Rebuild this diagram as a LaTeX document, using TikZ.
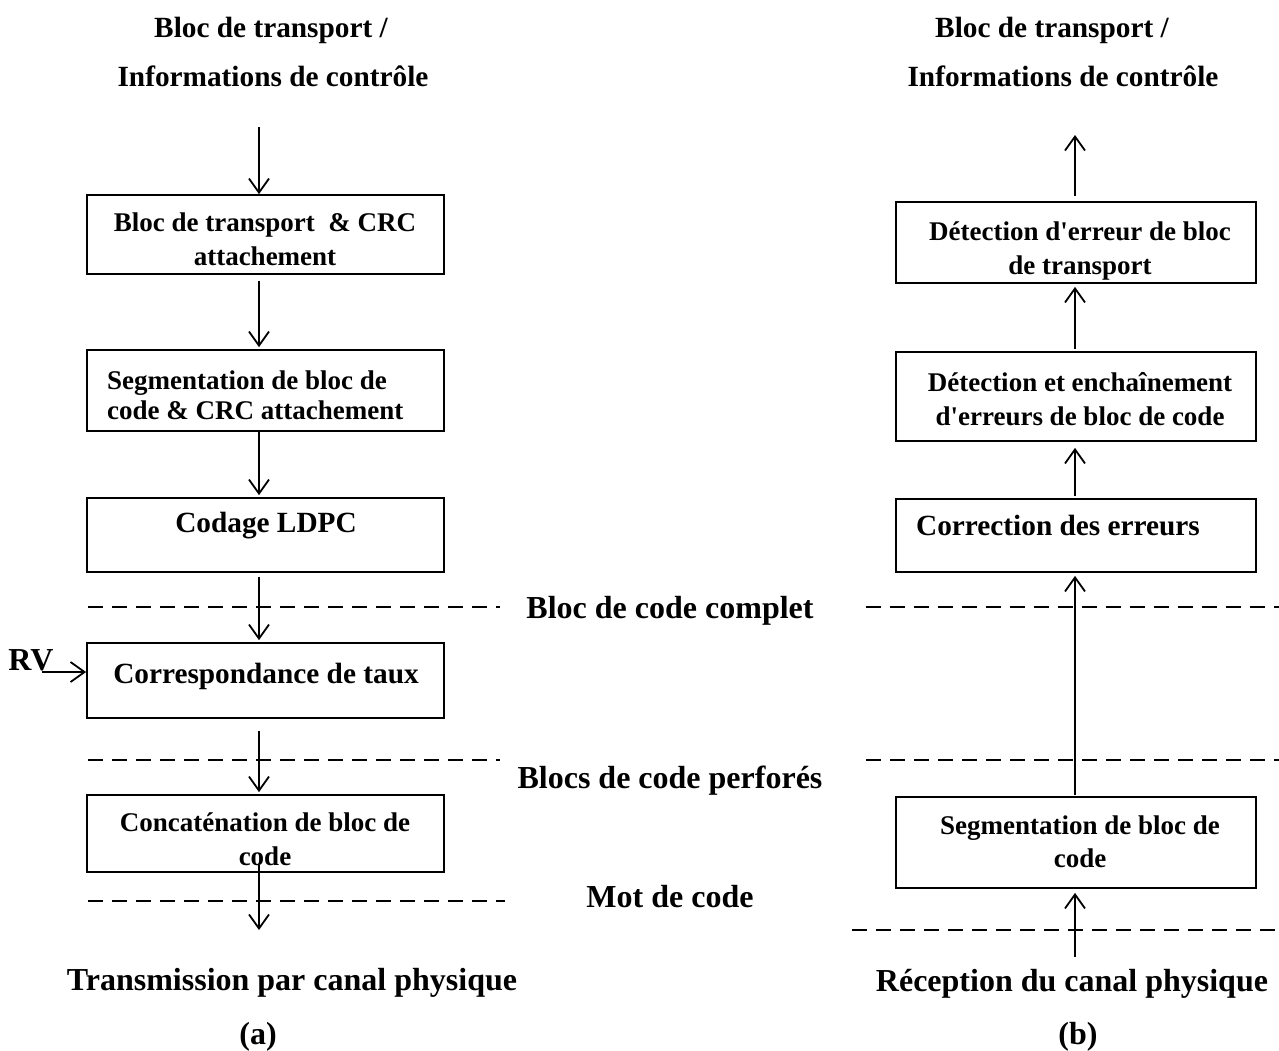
\documentclass[tikz,border=0pt]{standalone}
\usepackage{fontspec}
\setmainfont{Liberation Serif}
\usetikzlibrary{arrows.meta}
\begin{document}
\begin{tikzpicture}[x=1pt,y=-1pt,
  bx/.style={draw,line width=1.8pt,inner sep=0pt},
  lbox/.style={bx,minimum width=357pt},
  rbox/.style={bx,minimum width=360pt},
  arr/.style={line width=1.8pt,-{Straight Barb[length=14pt,width=20pt]}},
  dline/.style={line width=1.4pt,dash pattern=on 15pt off 9pt},
  ts/.style={font=\fontsize{27}{32}\selectfont\bfseries,anchor=base,inner sep=0pt},
  tm/.style={font=\fontsize{29.3}{34}\selectfont\bfseries,anchor=base,inner sep=0pt},
  tl/.style={font=\fontsize{32}{38}\selectfont\bfseries,anchor=base,inner sep=0pt}]
\useasboundingbox (0,0) rectangle (1279,1050);

% ---------- (a) ----------
\node[tm] (ta1) at (271,37) {Bloc de transport /};
\node[tm] (ta2) at (273,86) {Informations de contrôle};

\node[lbox,minimum height=79pt] (L1) at (265.5,234.5) {};
\node[lbox,minimum height=81pt] (L2) at (265.5,390.5) {};
\node[lbox,minimum height=74pt] (L3) at (265.5,535) {};
\node[lbox,minimum height=75pt] (L4) at (265.5,680.5) {};
\node[lbox,minimum height=77pt] (L5) at (265.5,833.5) {};

\node[ts] (l1a) at (265,231) {Bloc de transport~~\& CRC};
\node[ts] (l1b) at (265,265) {attachement};
\node[ts,anchor=base west] (l2a) at (107,389) {Segmentation de bloc de};
\node[ts,anchor=base west] (l2b) at (107,419) {code \& CRC attachement};
\node[tm] (l3) at (266,532) {Codage LDPC};
\node[tm] (l4) at (266,683) {Correspondance de taux};
\node[ts] (l5a) at (265,831) {Concaténation de bloc de};
\node[ts] (l5b) at (265,865) {code};

\coordinate (xa) at (259,0);
\coordinate (inA) at (259,127);
\coordinate (outA) at (259,930);
\coordinate (rvA) at (42,672);

\draw[arr] (inA) -- (L1.north -| xa);
\draw[arr] ([yshift=-6pt]L1.south -| xa) -- ([yshift=2pt]L2.north -| xa);
\draw[arr] (L2.south -| xa) -- ([yshift=2pt]L3.north -| xa);
\draw[arr] ([yshift=-4pt]L3.south -| xa) -- ([yshift=2pt]L4.north -| xa);
\draw[arr] ([yshift=-12pt]L4.south -| xa) -- ([yshift=2pt]L5.north -| xa);
\draw[arr] ([yshift=8pt]L5.south -| xa) -- (outA);

\node[tl] (rv) at (31,670) {RV};
\draw[arr] (rvA) -- (rvA -| L4.west);

\coordinate (da1) at (88,607);  \coordinate (da2) at (500,607);
\coordinate (db1) at (88,760);  \coordinate (db2) at (500,760);
\coordinate (dc1) at (88,901);  \coordinate (dc2) at (505,901);
\draw[dline] (da1) -- (da2);
\draw[dline] (db1) -- (db2);
\draw[dline] (dc1) -- (dc2);

\node[tl] (m1) at (670,618) {Bloc de code complet};
\node[tl] (m2) at (670,788) {Blocs de code perforés};
\node[tl] (m3) at (670,907) {Mot de code};

\node[tl] (ba) at (292,990) {Transmission par canal physique};
\node[tl] (ca) at (258,1044) {(a)};

% ---------- (b) ----------
\node[tm] (tb1) at (1052,37) {Bloc de transport /};
\node[tm] (tb2) at (1063,86) {Informations de contrôle};

\node[rbox,minimum height=81pt] (R1) at (1076,242.5) {};
\node[rbox,minimum height=89pt] (R2) at (1076,396.5) {};
\node[rbox,minimum height=73pt] (R3) at (1076,535.5) {};
\node[rbox,minimum height=91pt] (R4) at (1076,842.5) {};

\node[ts] (r1a) at (1080,240) {Détection d\textquotesingle erreur de bloc};
\node[ts] (r1b) at (1080,274) {de transport};
\node[ts] (r2a) at (1080,391) {Détection et enchaînement};
\node[ts] (r2b) at (1080,425) {d\textquotesingle erreurs de bloc de code};
\node[tm] (r3) at (1058,535) {Correction des erreurs};
\node[ts] (r4a) at (1080,834) {Segmentation de bloc de};
\node[ts] (r4b) at (1080,867) {code};

\coordinate (xb) at (1075,0);
\coordinate (outB) at (1075,135);
\coordinate (inB) at (1075,957);

\draw[arr] ([yshift=5pt]R1.north -| xb) -- (outB);
\draw[arr] ([yshift=2pt]R2.north -| xb) -- ([yshift=-3pt]R1.south -| xb);
\draw[arr] ([yshift=2pt]R3.north -| xb) -- ([yshift=-6pt]R2.south -| xb);
\draw[arr] ([yshift=1pt]R4.north -| xb) -- ([yshift=-3pt]R3.south -| xb);
\draw[arr] (inB) -- ([yshift=-4pt]R4.south -| xb);

\coordinate (ea1) at (866,607);  \coordinate (ea2) at (1279,607);
\coordinate (eb1) at (866,760);  \coordinate (eb2) at (1279,760);
\coordinate (ec1) at (852,930);  \coordinate (ec2) at (1279,930);
\draw[dline] (ea1) -- (ea2);
\draw[dline] (eb1) -- (eb2);
\draw[dline] (ec1) -- (ec2);

\node[tl] (bb) at (1072,991) {Réception du canal physique};
\node[tl] (cb) at (1078,1044) {(b)};
\end{tikzpicture}
\end{document}
